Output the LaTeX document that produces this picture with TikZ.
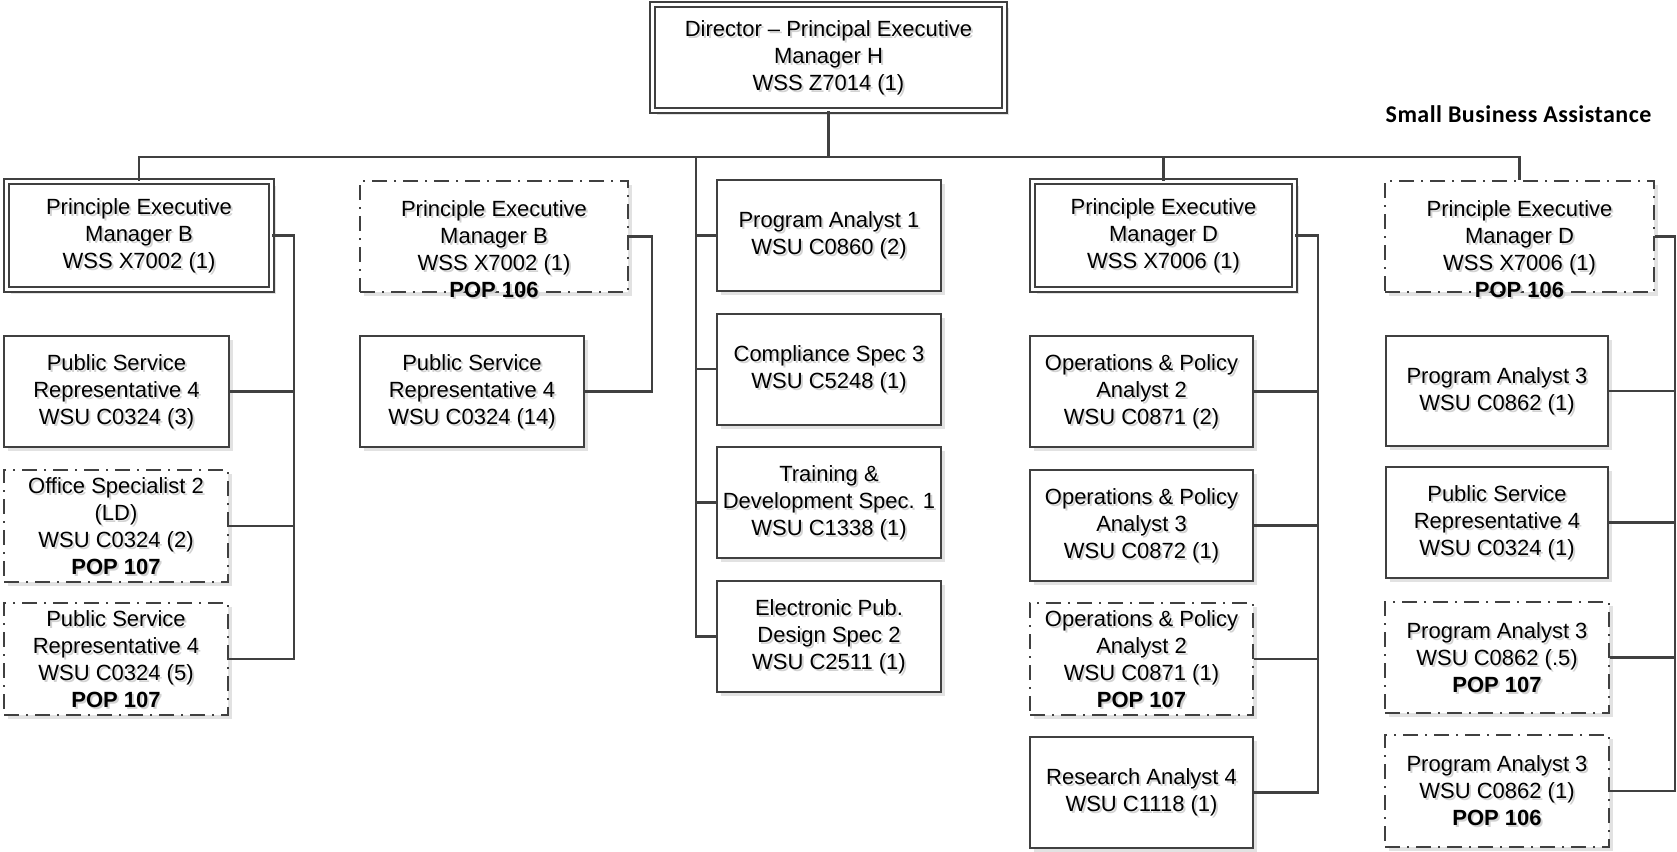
\documentclass[tikz,border=0pt]{standalone}
\usepackage{fontspec}
\setmainfont{Liberation Sans}
\newfontfamily\headfont[LetterSpace=2]{Carlito}
\usetikzlibrary{calc}
\definecolor{linegray}{RGB}{64,64,64}
\definecolor{shadegray}{RGB}{226,226,226}
\definecolor{textshade}{RGB}{210,210,210}

\tikzset{
  plain/.style={draw=linegray, line width=2pt, fill=white, inner sep=0pt},
  twin/.style={draw=linegray, line width=1.8pt, double=white, double distance=3.2pt, fill=white, inner sep=0pt},
  vacant/.style={draw=linegray, line width=2pt, fill=white, inner sep=0pt, dash pattern=on 15pt off 7pt on 2pt off 7pt},
  lbl/.style={align=center, inner sep=0pt, font=\fontsize{22}{27}\selectfont},
  link/.style={draw=linegray, line width=2.4pt},
  boxshade/.style={fill=shadegray},
}

% #1 name, #2 border style, #3 cx, #4 cy, #5 width, #6 height, #7 text shift, #8 text
\newcommand\orgunit[8]{%
  \fill[boxshade] ({#3-#5/2+4},{#4-#6/2+4}) rectangle ({#3+#5/2+4},{#4+#6/2+4});
  \node[#2, minimum width=#5pt, minimum height=#6pt] (#1) at (#3,#4) {};
  \node[lbl, text=textshade] at ({#3+2},{#4+#7+2}) {#8};
  \node[lbl] at (#3,{#4+#7}) {#8};
}

\begin{document}
\begin{tikzpicture}[x=1pt,y=-1pt]
\useasboundingbox (0,0) rectangle (1677,851);

% director
\orgunit{dir}{twin}{828.5}{57.5}{352}{106}{0}{Director – Principal Executive\\Manager H\\WSS Z7014 (1)}

% first branch
\orgunit{pemb1}{twin}{139}{235.5}{265}{108}{0}{Principle Executive\\Manager B\\WSS X7002 (1)}
\orgunit{psr3}{plain}{116.5}{391.5}{225}{111}{0}{Public Service\\Representative 4\\WSU C0324 (3)}
\orgunit{os2}{vacant}{116}{526}{224}{112}{0}{Office Specialist 2\\(LD)\\WSU C0324 (2)\\\textbf{POP 107}}
\orgunit{psr5}{vacant}{116}{659}{224}{112}{0}{Public Service\\Representative 4\\WSU C0324 (5)\\\textbf{POP 107}}

% second branch
\orgunit{pemb2}{vacant}{494}{236.5}{268}{111}{13}{Principle Executive\\Manager B\\WSS X7002 (1)\\\textbf{POP 106}}
\orgunit{psr14}{plain}{472}{391.5}{224}{111}{0}{Public Service\\Representative 4\\WSU C0324 (14)}

% staff column
\orgunit{pa1}{plain}{829}{235.5}{224}{111}{0}{Program Analyst 1\\WSU C0860 (2)}
\orgunit{cs3}{plain}{829}{369}{224}{111}{0}{Compliance Spec 3\\WSU C5248 (1)}
\orgunit{td1}{plain}{829}{502.5}{224}{111}{0}{Training \&\\Development Spec. 1\\WSU C1338 (1)}
\orgunit{ep2}{plain}{829}{636.5}{224}{111}{0}{Electronic Pub.\\Design Spec 2\\WSU C2511 (1)}

% fourth branch
\orgunit{pemd4}{twin}{1163.5}{235.5}{262}{108}{0}{Principle Executive\\Manager D\\WSS X7006 (1)}
\orgunit{opa2}{plain}{1141.5}{391.5}{223}{111}{0}{Operations \& Policy\\Analyst 2\\WSU C0871 (2)}
\orgunit{opa3}{plain}{1141.5}{525.5}{223}{111}{0}{Operations \& Policy\\Analyst 3\\WSU C0872 (1)}
\orgunit{opa2b}{vacant}{1141.5}{659}{223}{112}{0}{Operations \& Policy\\Analyst 2\\WSU C0871 (1)\\\textbf{POP 107}}
\orgunit{ra4}{plain}{1141.5}{792.5}{223}{111}{0}{Research Analyst 4\\WSU C1118 (1)}

% fifth branch
\node[font=\headfont\bfseries\fontsize{24}{28}\selectfont, inner sep=0pt] (sba) at (1518.5,114) {Small Business Assistance};
\orgunit{pemd5}{vacant}{1519.5}{236.5}{269}{111}{13}{Principle Executive\\Manager D\\WSS X7006 (1)\\\textbf{POP 106}}
\orgunit{pa3a}{plain}{1497}{391}{222}{110}{0}{Program Analyst 3\\WSU C0862 (1)}
\orgunit{psr1}{plain}{1497}{522.5}{222}{111}{0}{Public Service\\Representative 4\\WSU C0324 (1)}
\orgunit{pa3b}{vacant}{1497}{657.5}{224}{111}{0}{Program Analyst 3\\WSU C0862 (.5)\\\textbf{POP 107}}
\orgunit{pa3c}{vacant}{1497}{791}{224}{112}{0}{Program Analyst 3\\WSU C0862 (1)\\\textbf{POP 106}}

% reporting lines
\coordinate (bus) at (829,157);
\draw[link] (dir.south) -- (dir.south |- bus);
\draw[link] (pemb1.north) |- (pemd5.north |- bus) -- (pemd5.north);
\draw[link] (pemd4.north) -- (pemd4.north |- bus);

\coordinate (mid) at (696,157);
\draw[link] (mid) |- (ep2.west);
\foreach \n in {pa1,cs3,td1} \draw[link] (\n.west) -- (mid |- \n.west);

\coordinate (s1) at (294,0);
\draw[link] (pemb1.east) -| (s1 |- psr5.east) -- (psr5.east);
\foreach \n in {psr3,os2} \draw[link] (\n.east) -- (s1 |- \n.east);

\coordinate (s2) at (652,0);
\draw[link] (pemb2.east) -| (s2 |- psr14.east) -- (psr14.east);

\coordinate (s4) at (1318,0);
\draw[link] (pemd4.east) -| (s4 |- ra4.east) -- (ra4.east);
\foreach \n in {opa2,opa3,opa2b} \draw[link] (\n.east) -- (s4 |- \n.east);

\coordinate (s5) at (1675,0);
\draw[link] (pemd5.east) -| (s5 |- pa3c.east) -- (pa3c.east);
\foreach \n in {pa3a,psr1,pa3b} \draw[link] (\n.east) -- (s5 |- \n.east);
\end{tikzpicture}
\end{document}
